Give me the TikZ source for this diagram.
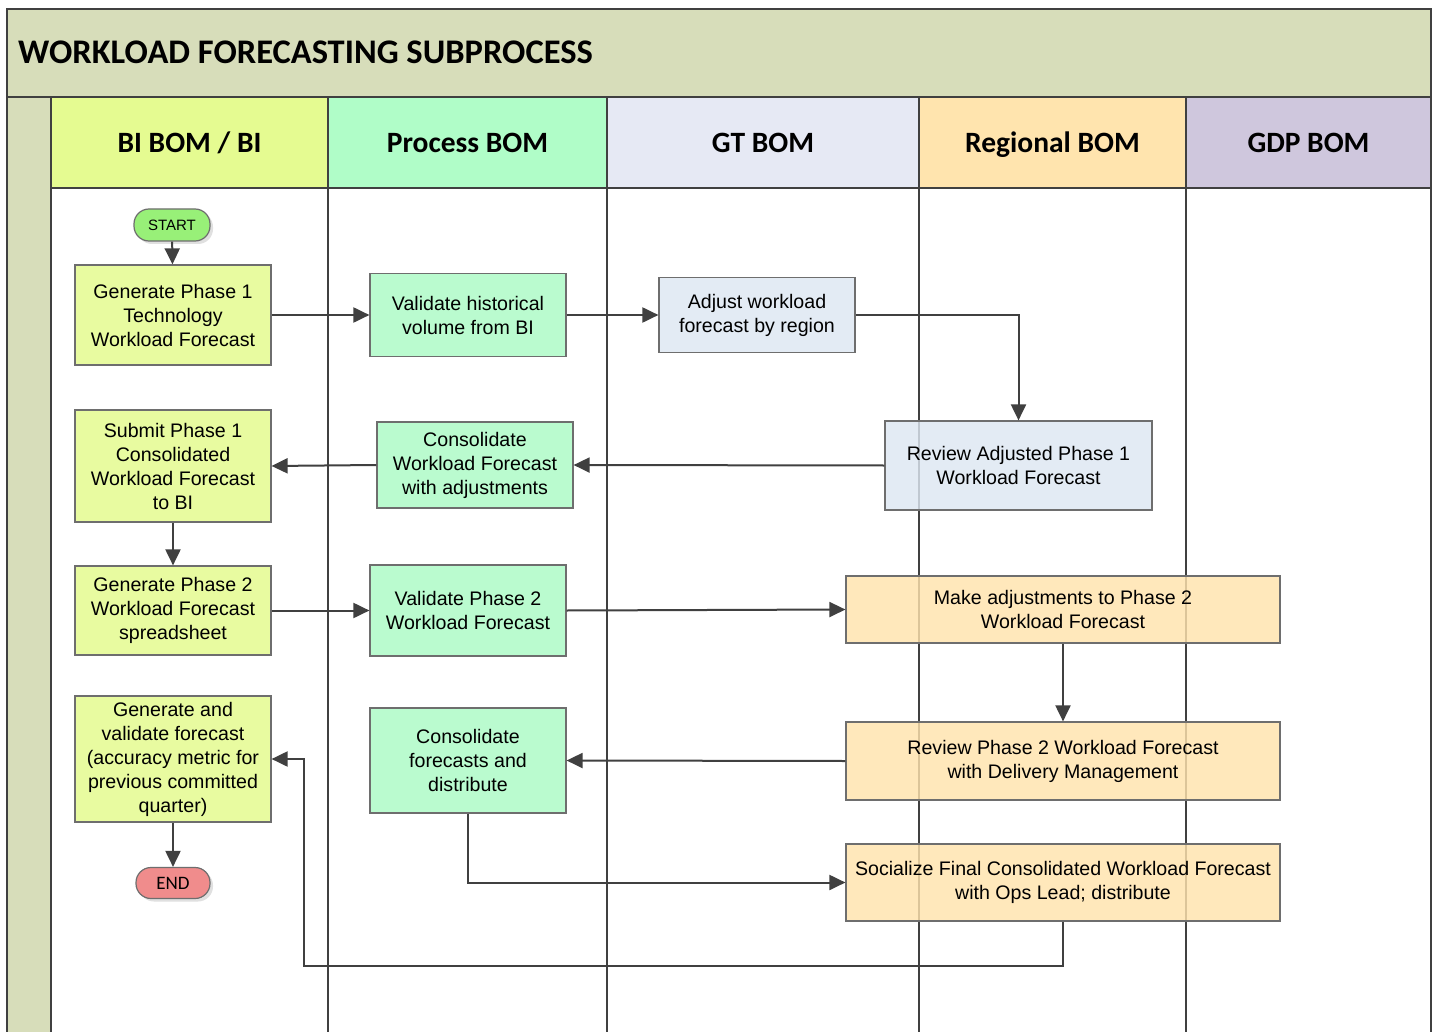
\documentclass[tikz,border=0pt]{standalone}
\usepackage{fontspec}
\setmainfont{Liberation Sans}
\newfontfamily\calib{Carlito}
\usetikzlibrary{arrows.meta,shadows}
\definecolor{titlebg}{HTML}{D7DDBA}
\definecolor{hbi}{HTML}{E5FB91}
\definecolor{hproc}{HTML}{B0FDC8}
\definecolor{hgt}{HTML}{E6E9F4}
\definecolor{hreg}{HTML}{FFE4AE}
\definecolor{hgdp}{HTML}{CFC7DD}
\definecolor{lanecol}{HTML}{404040}
\definecolor{boxline}{HTML}{6E6E6E}
\definecolor{fbi}{HTML}{E4FB8C}
\definecolor{fproc}{HTML}{ACFBC5}
\definecolor{fgt}{HTML}{DDE7F2}
\definecolor{freg}{HTML}{FFE3AD}
\definecolor{fstart}{HTML}{98F078}
\definecolor{fend}{HTML}{F08C8C}
\tikzset{
  box/.style={draw=boxline, line width=1.2pt, fill opacity=0.82, text opacity=1, align=center,
    font=\fontsize{19.6}{24}\selectfont, inner sep=2pt},
  term/.style={draw=boxline, line width=1.2pt, rounded corners=15pt, align=center,
    drop shadow={shadow xshift=3pt, shadow yshift=-3pt, fill=black!12, opacity=1}},
  arr/.style={draw=lanecol, line width=2pt, -{Triangle[length=16pt,width=15pt]}},
  lane/.style={draw=lanecol, line width=2pt},
  hdr/.style={font=\calib\bfseries\fontsize{29.5}{34}\selectfont, anchor=base}
}
\begin{document}
\begin{tikzpicture}[x=1pt,y=-1pt]
\useasboundingbox (0,0) rectangle (1437,1032);
\fill[white] (0,0) rectangle (1437,1032);
% title band
\fill[titlebg] (7,9) rectangle (1431,97);
\fill[titlebg] (7,97) rectangle (51,1032);
% header cells
\fill[hbi] (51,97) rectangle (328,188);
\fill[hproc] (328,97) rectangle (607,188);
\fill[hgt] (607,97) rectangle (919,188);
\fill[hreg] (919,97) rectangle (1186,188);
\fill[hgdp] (1186,97) rectangle (1431,188);
\draw[lane] (7,1032) -- (7,9) -- (1431,9) -- (1431,1032);
\draw[lane] (7,97) -- (1431,97);
\draw[lane] (51,188) -- (1431,188);
\foreach \x in {51,328,607,919,1186} \draw[lane] (\x,97) -- (\x,1032);
\node[anchor=base west, inner sep=0pt, font=\calib\bfseries\fontsize{34.5}{40}\selectfont] (title) at (18,64) {WORKLOAD FORECASTING SUBPROCESS};
\node[hdr] (h1) at (189.5,153) {BI BOM / BI};
\node[hdr] (h2) at (467.5,153) {Process BOM};
\node[hdr] (h3) at (763,153) {GT BOM};
\node[hdr] (h4) at (1052.5,153) {Regional BOM};
\node[hdr] (h5) at (1308.5,153) {GDP BOM};
% terminals
\node[term, fill=fstart, minimum width=76pt, minimum height=32pt, font=\fontsize{15}{18}\selectfont, inner sep=0pt] (start) at (172,225) {START};
\node[term, fill=fend, minimum width=74pt, minimum height=31pt, font=\calib\fontsize{19}{22}\selectfont, inner sep=0pt] (end) at (173,883) {END};
% process boxes
\node[box, fill=fbi, minimum width=196pt, minimum height=100pt] (g1) at (173,315) {Generate Phase 1\\Technology\\Workload Forecast};
\node[box, fill=fproc, minimum width=196pt, minimum height=83pt] (v1) at (468,315) {Validate historical\\volume from BI};
\node[box, fill=fgt, minimum width=196pt, minimum height=75pt] (a1) at (757,315) {Adjust workload\\forecast by region};
\node[box, fill=fgt, minimum width=267pt, minimum height=89pt] (r1) at (1018.5,465.5) {Review Adjusted Phase 1\\Workload Forecast};
\node[box, fill=fproc, minimum width=196pt, minimum height=86pt] (c1) at (475,465) {Consolidate\\Workload Forecast\\with adjustments};
\node[box, fill=fbi, minimum width=196pt, minimum height=112pt] (s1) at (173,466) {Submit Phase 1\\Consolidated\\Workload Forecast\\to BI};
\node[box, fill=fbi, minimum width=196pt, minimum height=89pt] (g2) at (173,610.5) {Generate Phase 2\\Workload Forecast\\spreadsheet};
\node[box, fill=fproc, minimum width=196pt, minimum height=91pt] (v2) at (468,610.5) {Validate Phase 2\\Workload Forecast};
\node[box, fill=freg, minimum width=434pt, minimum height=67pt] (m2) at (1063,609.5) {Make adjustments to Phase 2\\Workload Forecast};
\node[box, fill=freg, minimum width=434pt, minimum height=78pt] (rv2) at (1063,761) {Review Phase 2 Workload Forecast\\with Delivery Management};
\node[box, fill=fproc, minimum width=196pt, minimum height=105pt] (cf) at (468,760.5) {Consolidate\\forecasts and\\distribute};
\node[box, fill=fbi, minimum width=196pt, minimum height=126pt] (gv) at (173,759) {Generate and\\validate forecast\\(accuracy metric for\\previous committed\\quarter)};
\node[box, fill=freg, minimum width=434pt, minimum height=77pt] (so) at (1063,882.5) {Socialize Final Consolidated Workload Forecast\\with Ops Lead; distribute};
% connectors
\coordinate (k) at (304,966);
\draw[arr] (start) -- (g1);
\draw[arr] (g1) -- (v1);
\draw[arr] (v1) -- (a1);
\draw[arr] (a1.east) -| (r1.north);
\draw[arr] (r1.west) -- (c1.east);
\draw[arr] (c1.west) -- (s1.east);
\draw[arr] (s1) -- (g2);
\draw[arr] (g2.east) -- (v2.west);
\draw[arr] (v2.east) -- (m2.west);
\draw[arr] (m2) -- (rv2);
\draw[arr] (rv2.west) -- (cf.east);
\draw[arr] (cf.south) |- (so.west);
\draw[arr] (so.south) |- (k) |- (gv.east);
\draw[arr] (gv) -- (end);
\end{tikzpicture}
\end{document}
